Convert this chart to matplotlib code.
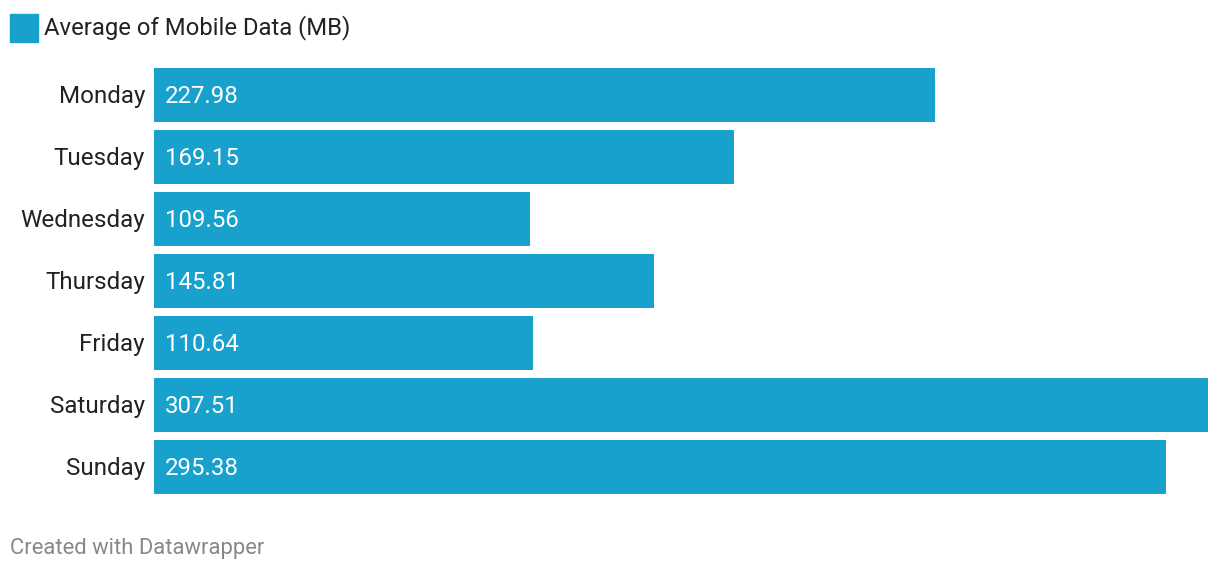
import matplotlib.pyplot as plt
from matplotlib.patches import Rectangle

days = ["Monday", "Tuesday", "Wednesday", "Thursday", "Friday", "Saturday", "Sunday"]
mobile_data = [227.98, 169.15, 109.56, 145.81, 110.64, 307.51, 295.38]
legend_label = "Average of Mobile Data (MB)"
footer = "Created with Datawrapper"

bar_color = "#18a1cd"
W, H = 1220, 572

plt.rcParams["font.family"] = ["Roboto", "DejaVu Sans"]

fig = plt.figure(figsize=(W / 100, H / 100), dpi=100)
ax = fig.add_axes([154 / W, (H - 498) / H, (1208 - 154) / W, (498 - 64) / H])

y = list(range(len(days)))
ax.barh(y, mobile_data, height=54 / 62, color=bar_color)
ax.set_xlim(0, max(mobile_data))
ax.set_ylim(len(days) - 0.5, -0.5)

px = 1 / 3.4275  # data units per pixel along x
base = 8.3 / 62  # baseline offset below bar centre
for i, (d, v) in enumerate(zip(days, mobile_data)):
    ax.text(-9 * px, i + base, d, ha="right", va="baseline", fontsize=17.4, color="#222222")
    ax.text(11 * px, i + base, f"{v:.2f}", ha="left", va="baseline", fontsize=17.3, color="white")

ax.axis("off")

# legend
fig.patches.append(Rectangle((10 / W, (H - 42) / H), 28 / W, 28 / H,
                             transform=fig.transFigure, color=bar_color))
fig.text(44 / W, (H - 34) / H, legend_label, ha="left", va="baseline",
         fontsize=17.2, color="#222222")

fig.text(10 / W, (H - 554.3) / H, footer, ha="left", va="baseline",
         fontsize=15.8, color="#888888")

fig.savefig("out.png", dpi=100)
plt.close(fig)
